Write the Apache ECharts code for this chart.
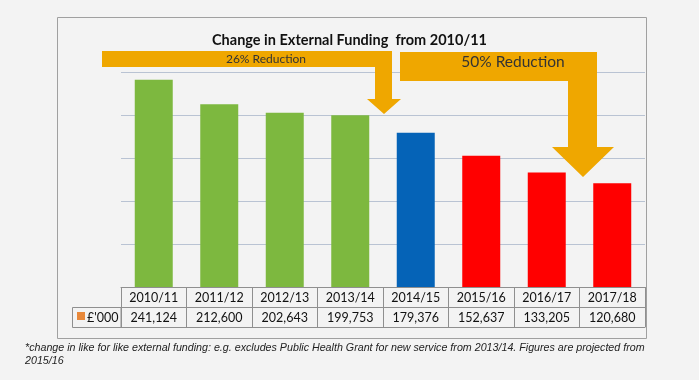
<!DOCTYPE html>
<html>
<head>
<meta charset="utf-8">
<script src="https://cdn.jsdelivr.net/npm/echarts@6/dist/echarts.min.js"></script>
<style>
html,body{margin:0;padding:0;background:#f3f3f3;}
#c{width:699px;height:380px;}
</style>
</head>
<body>
<div id="c"></div>
<script>
var categories = ['2010/11','2011/12','2012/13','2013/14','2014/15','2015/16','2016/17','2017/18'];
var funding = [241124, 212600, 202643, 199753, 179376, 152637, 133205, 120680];
var seriesName = "£'000";
var titleText = 'Change in External Funding  from 2010/11';
var note1 = '26% Reduction';
var note2 = '50% Reduction';
var footnote = '*change in like for like external funding: e.g. excludes Public Health Grant for new service from 2013/14. Figures are projected from\n2015/16';

var barColors = ['#7db83f','#7db83f','#7db83f','#7db83f','#0563b7','#ff0000','#ff0000','#ff0000'];
var tableLine = '#8f8f8f';
var orange = '#efa700';

function fmt(v){ return v.toLocaleString('en-GB'); }

var chart = echarts.init(document.getElementById('c'));
chart.setOption({
  backgroundColor: '#f3f3f3',
  animation: false,
  title: {
    text: titleText,
    left: 'center',
    top: 28,
    textStyle: {fontFamily: 'Lato', fontWeight: 'bold', fontSize: 14.5, color: '#111'}
  },
  grid: {left: 121, right: 54, top: 72, bottom: 93},
  xAxis: [
    {
      type: 'category', data: categories, position: 'bottom',
      axisLine: {show: true, lineStyle: {color: tableLine, width: 1}},
      axisTick: {show: true, length: 40, lineStyle: {color: tableLine, width: 1}},
      axisLabel: {margin: 4, fontFamily: 'Lato', fontSize: 12.5, color: '#111'}
    },
    {
      type: 'category', data: categories, position: 'bottom', offset: 20,
      axisLine: {show: true, lineStyle: {color: tableLine, width: 1}},
      axisTick: {show: false},
      axisLabel: {margin: 4, fontFamily: 'Lato', fontSize: 12.5, color: '#111',
        formatter: function(v, i){ return fmt(funding[i]); }}
    },
    {
      type: 'category', data: categories, position: 'bottom', offset: 40,
      axisLine: {show: true, lineStyle: {color: tableLine, width: 1}},
      axisTick: {show: false},
      axisLabel: {show: false}
    }
  ],
  yAxis: {
    type: 'value', min: 0, max: 250000, interval: 50000,
    axisLabel: {show: false}, axisLine: {show: false}, axisTick: {show: false},
    splitLine: {lineStyle: {color: '#b9c3d3', width: 1}}
  },
  series: [{
    name: seriesName,
    type: 'bar',
    data: funding,
    barWidth: '58%',
    itemStyle: {color: function(p){ return barColors[p.dataIndex]; }}
  }],
  graphic: [
    {type: 'rect', shape: {x: 57.5, y: 17.5, width: 589, height: 321}, style: {fill: 'none', stroke: '#a0a0a0', lineWidth: 1}, z: -1},
    {type: 'rect', shape: {x: 72.5, y: 307.5, width: 48.5, height: 20}, style: {fill: 'none', stroke: tableLine, lineWidth: 1}},
    {type: 'rect', shape: {x: 77, y: 312, width: 8, height: 8}, style: {fill: '#e8883a'}},
    {type: 'text', x: 87, y: 317.5, style: {text: seriesName, fontFamily: 'Lato', fontSize: 12.5, fill: '#111', verticalAlign: 'middle'}},
    {type: 'polygon', z: 100, shape: {points: [[102,51],[392,51],[392,99],[401,99],[384,114],[367,99],[375,99],[375,67],[102,67]]}, style: {fill: orange}},
    {type: 'polygon', z: 100, shape: {points: [[400,52],[597,52],[597,147],[614,147],[583,177],[552,147],[568,147],[568,81],[400,81]]}, style: {fill: orange}},
    {type: 'text', z: 101, x: 266, y: 59.5, style: {text: note1, fontFamily: 'Lato', fontSize: 12, fill: '#333', align: 'center', verticalAlign: 'middle'}},
    {type: 'text', z: 101, x: 513, y: 62, style: {text: note2, fontFamily: 'Lato', fontSize: 15.5, fill: '#333', align: 'center', verticalAlign: 'middle'}},
    {type: 'text', x: 25, y: 342, style: {text: footnote, fontFamily: 'Liberation Sans', fontStyle: 'italic', fontSize: 10.7, lineHeight: 12.5, fill: '#222'}}
  ]
});
</script>
</body>
</html>
